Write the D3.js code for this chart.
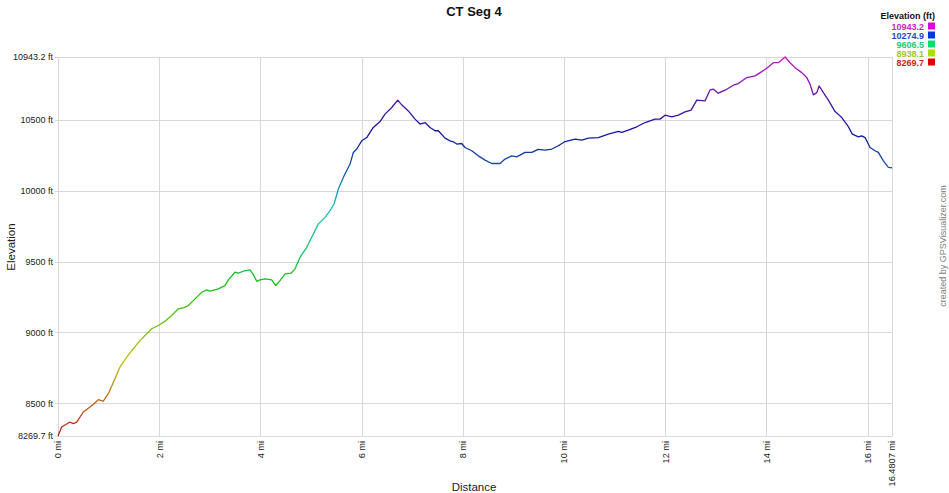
<!DOCTYPE html>
<html>
<head>
<meta charset="utf-8">
<script src="https://cdn.jsdelivr.net/npm/d3@7"></script>
<style>
  html, body { margin: 0; padding: 0; background: #fff; }
  svg { display: block; font-family: "Liberation Sans", Arial, sans-serif; }
</style>
</head>
<body>
<svg id="chart" width="949" height="493"></svg>
<script>
// ---- data ----
const title = "CT Seg 4";
const distanceMi = [0,0.073,0.237,0.302,0.370,0.500,0.632,0.698,0.796,0.895,0.994,1.126,1.225,1.358,1.488,1.621,1.719,1.852,1.982,2.115,2.247,2.377,2.476,2.575,2.708,2.840,2.939,3.004,3.168,3.300,3.366,3.498,3.563,3.662,3.794,3.860,3.927,3.992,4.091,4.223,4.302,4.387,4.486,4.605,4.684,4.783,4.915,5.045,5.144,5.277,5.375,5.455,5.540,5.638,5.771,5.836,5.903,6.002,6.101,6.166,6.231,6.364,6.462,6.595,6.713,6.792,6.923,7.055,7.154,7.253,7.352,7.451,7.516,7.648,7.747,7.812,7.879,7.978,8.043,8.176,8.306,8.439,8.571,8.735,8.834,8.966,9.065,9.229,9.362,9.492,9.625,9.757,9.887,10.020,10.217,10.350,10.480,10.678,10.875,11.073,11.140,11.271,11.437,11.601,11.798,11.897,11.996,12.128,12.259,12.391,12.510,12.623,12.787,12.885,12.951,13.049,13.182,13.346,13.445,13.611,13.775,13.907,14.006,14.136,14.235,14.368,14.466,14.565,14.698,14.796,14.862,14.927,14.994,15.040,15.125,15.223,15.356,15.488,15.607,15.698,15.816,15.883,15.949,16.047,16.146,16.211,16.310,16.409,16.4807];
const elevationFt = [8269.7,8333,8368,8357,8368,8439,8474,8493,8526,8516,8568,8674,8756,8826,8885,8944,8979,9026,9049,9080,9120,9167,9174,9190,9237,9284,9301,9291,9308,9331,9371,9425,9418,9432,9442,9408,9361,9371,9378,9371,9331,9366,9413,9418,9449,9530,9601,9695,9766,9812,9859,9906,10012,10094,10188,10270,10294,10352,10375,10411,10446,10488,10540,10587,10639,10606,10563,10505,10470,10481,10446,10423,10423,10371,10352,10345,10329,10333,10305,10282,10246,10216,10192,10192,10223,10246,10239,10270,10270,10291,10287,10294,10317,10347,10364,10357,10371,10375,10399,10418,10411,10427,10451,10481,10505,10505,10533,10521,10533,10556,10568,10639,10634,10711,10716,10688,10709,10744,10756,10798,10810,10840,10864,10903,10903,10943.2,10903,10868,10833,10798,10751,10676,10692,10739,10692,10639,10558,10516,10458,10399,10380,10387,10375,10305,10282,10270,10211,10164,10162];
const yTickValues = [8269.7, 8500, 9000, 9500, 10000, 10500, 10943.2];
const yTickLabels = ["8269.7 ft","8500 ft","9000 ft","9500 ft","10000 ft","10500 ft","10943.2 ft"];
const xTickValues = [0,2,4,6,8,10,12,14,16,16.4807];
const xTickLabels = ["0 mi","2 mi","4 mi","6 mi","8 mi","10 mi","12 mi","14 mi","16 mi","16.4807 mi"];
const legendTitle = "Elevation (ft)";
const legendValues = [10943.2, 10274.9, 9606.5, 8938.1, 8269.7];
const legendLabels = ["10943.2","10274.9","9606.5","8938.1","8269.7"];

// ---- layout ----
const svg = d3.select("#chart");
const L = 58, R = 892, T = 57, B = 436;
const minE = 8269.7, maxE = 10943.2;
const x = d3.scaleLinear().domain([0, 16.4807]).range([L, R]);
const y = d3.scaleLinear().domain([minE, maxE]).range([B, T]);
const hue = d3.scaleLinear().domain([minE, maxE]).range([0, 300]);
const lineColor = v => {
  const h = hue(v);
  const l = h > 200 && h < 280 ? 0.36 : 0.42;
  return d3.hsl(h, 0.8, l).formatHex();
};
const swatchColor = v => d3.hsl(hue(v), 1, 0.44).formatHex();
const textColor = v => d3.hsl(hue(v), 0.75, 0.45).formatHex();

const grid = "#d8d8d8";

// gridlines
svg.append("g").selectAll("line").data(yTickValues).join("line")
  .attr("x1", L - 3).attr("x2", R)
  .attr("y1", d => Math.round(y(d)) + 0.5).attr("y2", d => Math.round(y(d)) + 0.5)
  .attr("stroke", grid).attr("stroke-width", 1);
svg.append("g").selectAll("line").data(xTickValues).join("line")
  .attr("x1", d => Math.round(x(d)) + 0.5).attr("x2", d => Math.round(x(d)) + 0.5)
  .attr("y1", T).attr("y2", B + 0.5)
  .attr("stroke", grid).attr("stroke-width", 1);

// y tick labels
svg.append("g").selectAll("text").data(yTickValues).join("text")
  .attr("x", L - 5).attr("y", d => y(d) + 3.2)
  .attr("text-anchor", "end").attr("font-size", 9).attr("fill", "#222")
  .text((d, i) => yTickLabels[i]);

// x tick labels (rotated)
svg.append("g").selectAll("text").data(xTickValues).join("text")
  .attr("transform", d => `translate(${x(d) + 3.3},${B + 5}) rotate(-90)`)
  .attr("text-anchor", "end").attr("font-size", 9.2).attr("fill", "#222")
  .text((d, i) => xTickLabels[i]);

// gradient for the line
const defs = svg.append("defs");
const grad = defs.append("linearGradient").attr("id", "elevGrad")
  .attr("gradientUnits", "userSpaceOnUse")
  .attr("x1", 0).attr("x2", 0).attr("y1", y(minE)).attr("y2", y(maxE));
d3.range(0, 1.0001, 0.05).forEach(t => {
  grad.append("stop").attr("offset", t).attr("stop-color", lineColor(minE + t * (maxE - minE)));
});

const pts = distanceMi.map((d, i) => [d, elevationFt[i]]);
svg.append("path").datum(pts)
  .attr("d", d3.line().x(d => x(d[0])).y(d => y(d[1])))
  .attr("fill", "none").attr("stroke", "url(#elevGrad)")
  .attr("stroke-width", 1.3).attr("stroke-linejoin", "round");

// title
svg.append("text").attr("x", 474).attr("y", 16).attr("text-anchor", "middle")
  .attr("font-size", 13).attr("font-weight", "bold").attr("fill", "#111").text(title);

// axis titles
svg.append("text").attr("x", 474).attr("y", 491).attr("text-anchor", "middle")
  .attr("font-size", 11.5).attr("fill", "#222").text("Distance");
svg.append("text").attr("transform", "translate(15,247) rotate(-90)").attr("text-anchor", "middle")
  .attr("font-size", 11.5).attr("fill", "#222").text("Elevation");

// credit
svg.append("text").attr("transform", "translate(946,246) rotate(-90)").attr("text-anchor", "middle")
  .attr("font-size", 9).attr("fill", "#808080").text("created by GPSVisualizer.com");

// legend
svg.append("text").attr("x", 935).attr("y", 19).attr("text-anchor", "end")
  .attr("font-size", 9).attr("font-weight", "bold").attr("fill", "#111").text(legendTitle);
const lg = svg.append("g");
lg.selectAll("text").data(legendValues).join("text")
  .attr("x", 924).attr("y", (d, i) => 29.5 + i * 9)
  .attr("text-anchor", "end").attr("font-size", 9).attr("font-weight", "bold")
  .attr("fill", d => textColor(d)).text((d, i) => legendLabels[i]);
lg.selectAll("rect").data(legendValues).join("rect")
  .attr("x", 928).attr("y", (d, i) => 22.5 + i * 9).attr("width", 7).attr("height", 7)
  .attr("fill", d => swatchColor(d));
</script>
</body>
</html>
